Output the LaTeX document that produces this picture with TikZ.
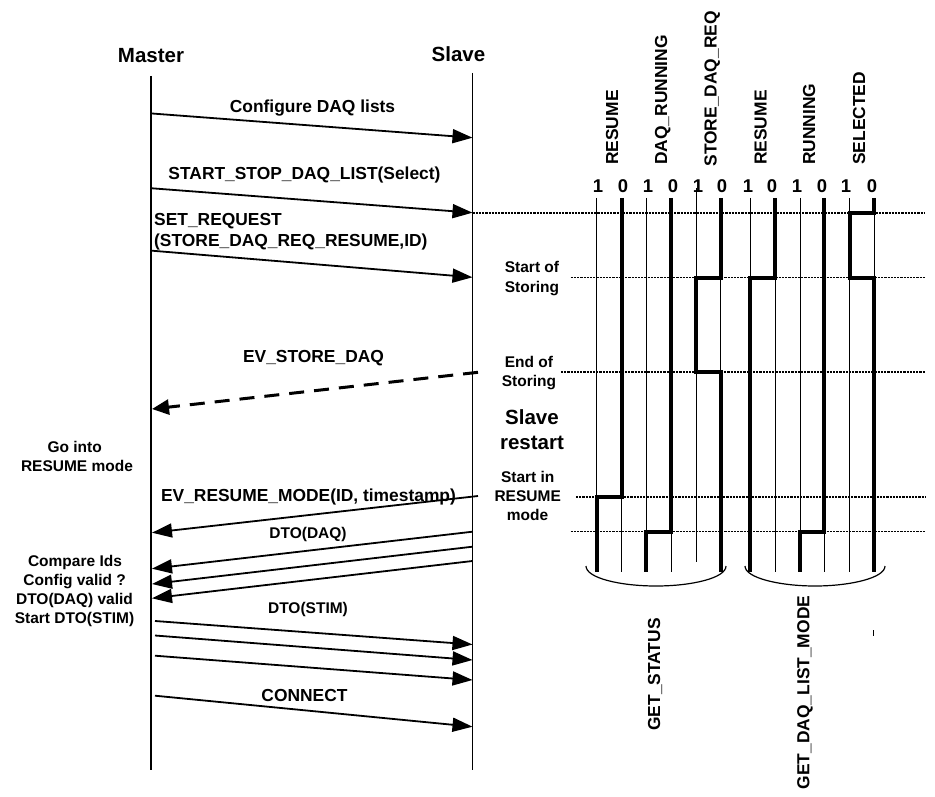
\documentclass[tikz,border=0pt]{standalone}
\usepackage{fontspec}
\setmainfont{Liberation Sans}
\usetikzlibrary{arrows.meta}
\newcommand\fmsg{\fontsize{17.4}{20}\selectfont\bfseries}
\newcommand\fnote{\fontsize{15.5}{19}\selectfont\bfseries}
\newcommand\fbig{\fontsize{20.5}{25}\selectfont\bfseries}
\newcommand\fdig{\fontsize{18.5}{22}\selectfont\bfseries}
\begin{document}
\begin{tikzpicture}[x=1pt,y=-1pt,
  life/.style={line width=1.6pt},
  msg/.style={line width=1.8pt,-{Triangle[length=20pt,width=14pt]}},
  dmsg/.style={line width=3pt,dash pattern=on 15pt off 10pt,-{Triangle[length=17pt,width=15pt]}},
  lbl/.style={inner sep=0pt,anchor=base,font=\fmsg},
  lbll/.style={inner sep=0pt,anchor=base west,font=\fmsg},
  note/.style={inner sep=0pt,anchor=base,font=\fnote},
  big/.style={inner sep=0pt,anchor=base,font=\fbig},
  dig/.style={inner sep=0pt,anchor=base,font=\fdig},
  col/.style={inner sep=0pt,anchor=base west,rotate=90,font=\fmsg},
  cmd/.style={inner sep=0pt,anchor=base,rotate=90,font=\fmsg},
  thinl/.style={line width=1pt},
  sig/.style={line width=4pt,line join=miter},
  dotl/.style={line width=1.8pt,dash pattern=on 2.2pt off 1pt},
  brace/.style={line width=1.2pt},
]
\useasboundingbox (0,0) rectangle (935,797);
\fill[white] (0,0) rectangle (935,797);

% headers and lifelines
\node[big] (master) at (151,62.3) {Master};
\node[big] (slave) at (458.5,61.3) {Slave};
\coordinate (mtop) at (151,76);
\coordinate (mbot) at (151,770);
\coordinate (stop) at (472.5,73);
\coordinate (sbot) at (472.5,770);
\draw[life] (mtop) -- (mbot);
\draw[life] (stop) -- (sbot);

% messages master -> slave
\coordinate (m1) at (152,113.5); \coordinate (s1) at (472.5,137.7);
\coordinate (m2) at (152,188.3); \coordinate (s2) at (472.5,212.7);
\coordinate (m3) at (152,250.7); \coordinate (s3) at (472.5,277.3);
\draw[msg] (m1) -- (s1);
\draw[msg] (m2) -- (s2);
\draw[msg] (m3) -- (s3);
\node[lbl] (l1) at (312.5,112.2) {Configure DAQ lists};
\node[lbl] (l2) at (304.5,179.2) {START\_STOP\_DAQ\_LIST(Select)};
\node[lbll] (l3a) at (154,225.2) {SET\_REQUEST};
\node[lbll] (l3b) at (154,246.2) {(STORE\_DAQ\_REQ\_RESUME,ID)};

% EV_STORE_DAQ
\coordinate (s4) at (478,372.3); \coordinate (m4) at (152,409);
\draw[dmsg] (s4) -- (m4);
\node[lbl] (l4) at (313.5,362.9) {EV\_STORE\_DAQ};

% EV_RESUME_MODE
\coordinate (s5) at (478,496); \coordinate (m5) at (152,532.7);
\draw[msg] (s5) -- (m5);
\node[lbl] (l5) at (308.5,501.9) {EV\_RESUME\_MODE(ID, timestamp)};

% DTO(DAQ)
\coordinate (s6a) at (472.5,531.7); \coordinate (m6a) at (152,568.7);
\coordinate (s6b) at (472.5,546.7); \coordinate (m6b) at (152,584);
\coordinate (s6c) at (472.5,561);   \coordinate (m6c) at (152,598.3);
\draw[msg] (s6a) -- (m6a);
\draw[msg] (s6b) -- (m6b);
\draw[msg] (s6c) -- (m6c);
\node[note] (l6) at (308,538.5) {DTO(DAQ)};

% DTO(STIM)
\coordinate (m7a) at (155,621);   \coordinate (s7a) at (472.5,644.5);
\coordinate (m7b) at (155,635.5); \coordinate (s7b) at (472.5,660);
\coordinate (m7c) at (155,655.7); \coordinate (s7c) at (472.5,680);
\draw[msg] (m7a) -- (s7a);
\draw[msg] (m7b) -- (s7b);
\draw[msg] (m7c) -- (s7c);
\node[note] (l7) at (308,613.5) {DTO(STIM)};

% CONNECT
\coordinate (m8) at (155,695.7); \coordinate (s8) at (472.5,726.7);
\draw[msg] (m8) -- (s8);
\node[lbl] (l8) at (304.5,701.2) {CONNECT};

% master notes
\node[note] (g1) at (74.7,452.2) {Go into};
\node[note] (g2) at (77,471.2) {RESUME mode};
\node[note] (c1) at (75,566.5) {Compare Ids};
\node[note] (c2) at (74.7,585.5) {Config valid ?};
\node[note] (c3) at (74.5,604.5) {DTO(DAQ) valid};
\node[note] (c4) at (74.5,623.5) {Start DTO(STIM)};

% slave notes
\node[note] (r1a) at (532,272.5) {Start of};
\node[note] (r1b) at (532,292.5) {Storing};
\node[note] (r2a) at (529,367.2) {End of};
\node[note] (r2b) at (529,386.2) {Storing};
\node[big] (r3a) at (532,424) {Slave};
\node[big] (r3b) at (532,449) {restart};
\node[note] (r4a) at (527.7,482.8) {Start in};
\node[note] (r4b) at (527.7,501.5) {RESUME};
\node[note] (r4c) at (527.5,520) {mode};

% dotted time lines
\draw[dotl] (472.5,212.7) -- (925,212.7);
\draw[dotl] (570.7,277.5) -- (925,277.5);
\draw[dotl] (561,372.3) -- (925,372.3);
\draw[dotl] (576,496.7) -- (925,496.7);
\draw[dotl] (570.7,531.5) -- (925,531.5);

% column labels
\node[col] (k1) at (618,165) {RESUME};
\node[col] (k2) at (667,165) {DAQ\_RUNNING};
\node[col] (k3) at (716.5,166.7) {STORE\_DAQ\_REQ};
\node[col] (k4) at (766.5,165) {RESUME};
\node[col] (k5) at (815,165) {RUNNING};
\node[col] (k6) at (865,165) {SELECTED};

% digits
\foreach \x/\d [count=\i] in {598/1,623/0,648/1,673/0,698/1,722/0,748/1,772/0,797/1,822/0,846/1,872/0}
  \node[dig] (d\i) at (\x,192.7) {\d};

% thin vertical lines
\foreach \x in {596.7,621.7,646.3,671,720.8,750,775,800,824.3,849.5,874}
  \draw[thinl] (\x,198) -- (\x,571.7);
\draw[thinl] (696,188) -- (696,562);

% signal levels
\draw[sig] (621.7,198) -- (621.7,496.7) -- (596.7,496.7) -- (596.7,571.7);
\draw[sig] (671,198) -- (671,531.5) -- (646.3,531.5) -- (646.3,571.7);
\draw[sig] (720.8,198) -- (720.8,277.5) -- (696,277.5) -- (696,372.3) -- (720.8,372.3) -- (720.8,571.7);
\draw[sig] (775,198) -- (775,277.5) -- (750,277.5) -- (750,571.7);
\draw[sig] (824.3,198) -- (824.3,531.5) -- (800,531.5) -- (800,571.7);
\draw[sig] (874,198) -- (874,212.7) -- (849.5,212.7) -- (849.5,277.5) -- (874,277.5) -- (874,571.7);

% braces
\draw[brace] (586,566) .. controls (586,578) and (620,586) .. (656,586) .. controls (692,586) and (726,578) .. (726,566);
\draw[brace] (745,566) .. controls (745,578) and (780,586) .. (815,586) .. controls (850,586) and (885,578) .. (885,566);
\draw[thinl] (873,630) -- (873,636);

% command labels
\node[cmd] (q1) at (660,674.5) {GET\_STATUS};
\node[cmd] (q2) at (809.3,692.5) {GET\_DAQ\_LIST\_MODE};
\end{tikzpicture}
\end{document}
